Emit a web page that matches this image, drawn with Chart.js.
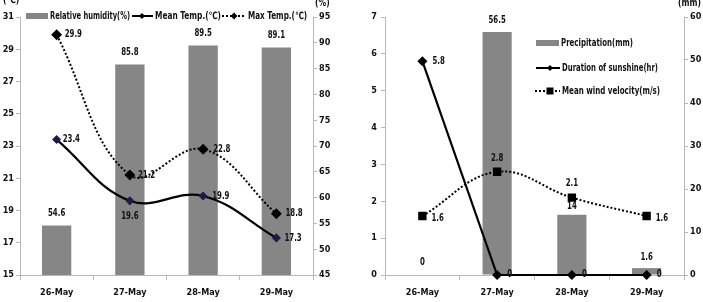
<!DOCTYPE html>
<html lang="en">
<head>
  <meta charset="UTF-8">
  <title>Weather 26-29 May</title>
  <script src="https://cdn.jsdelivr.net/npm/chart.js"></script>
  <style>
    body { margin: 0; background: #fff; width: 703px; height: 302px; overflow: hidden; position: relative; }
    .box { position: absolute; top: 0; height: 302px; }
    #b1 { left: 0; width: 345px; }
    #b2 { left: 345px; width: 358px; }
  </style>
</head>
<body>
  <div class="box" id="b1"><canvas id="c1"></canvas></div>
  <div class="box" id="b2"><canvas id="c2"></canvas></div>

  <script>
    const days = ['26-May', '27-May', '28-May', '29-May'];
    const humidity = [54.6, 85.8, 89.5, 89.1];
    const meanTemp = [23.4, 19.6, 19.9, 17.3];
    const maxTemp = [29.9, 21.2, 22.8, 18.8];
    const precipitation = [0, 56.5, 14, 1.6];
    const sunshine = [5.8, 0, 0, 0];
    const wind = [1.6, 2.8, 2.1, 1.6];

    const FONT = "'Liberation Sans Narrow', 'DejaVu Sans Condensed', sans-serif";
    const TXT = '#111';
    const AXIS = '#b8b8b8';
    const BAR = '#868686';

    // squeezed text, the original uses a narrow font
    function text(ctx, s, x, y, align, sx) {
      ctx.save();
      ctx.translate(x, y);
      ctx.scale(sx, 1);
      ctx.textAlign = align;
      ctx.fillText(s, 0, 0);
      ctx.restore();
    }

    // value labels next to each bar / point: [dx, dy, align]
    const valueLabels = {
      id: 'valueLabels',
      afterDatasetsDraw(chart) {
        const ctx = chart.ctx;
        ctx.save();
        ctx.font = 'bold 10px ' + FONT;
        ctx.fillStyle = TXT;
        ctx.textBaseline = 'middle';
        chart.data.datasets.forEach((ds, i) => {
          const meta = chart.getDatasetMeta(i);
          meta.data.forEach((el, j) => {
            const p = ds.labelPos[j];
            text(ctx, String(ds.data[j]), el.x + p[0], el.y + p[1], p[2], 0.78);
          });
        });
        ctx.restore();
      }
    };

    function marker(ctx, style, x, y, r) {
      ctx.fillStyle = '#000';
      ctx.beginPath();
      if (style === 'rectRot') {
        ctx.moveTo(x, y - r); ctx.lineTo(x + r, y); ctx.lineTo(x, y + r); ctx.lineTo(x - r, y);
      } else {
        ctx.rect(x - r, y - r, 2 * r, 2 * r);
      }
      ctx.closePath();
      ctx.fill();
    }

    // legend + unit captions, drawn over the plot like the original
    function legendPlugin(items, units) {
      return {
        id: 'ownLegend',
        afterDraw(chart) {
          const ctx = chart.ctx;
          ctx.save();
          ctx.font = 'bold 10px ' + FONT;
          ctx.fillStyle = TXT;
          ctx.textBaseline = 'middle';
          units.forEach(u => text(ctx, u[0], u[1], u[2], 'left', 0.85));
          items.forEach(it => {
            if (it.kind === 'box') {
              ctx.fillStyle = BAR;
              ctx.fillRect(it.x, it.y - 3, it.w, 6);
            } else {
              ctx.strokeStyle = '#000';
              ctx.lineWidth = 2;
              ctx.setLineDash(it.dash || []);
              ctx.beginPath();
              ctx.moveTo(it.x, it.y);
              ctx.lineTo(it.x + it.w, it.y);
              ctx.stroke();
              ctx.setLineDash([]);
              marker(ctx, it.marker, it.x + it.m, it.y, it.r);
            }
            ctx.fillStyle = TXT;
            const sx = it.tw / ctx.measureText(it.text).width;
            text(ctx, it.text, it.x + it.w + 2, it.y, 'left', sx);
          });
          ctx.restore();
        }
      };
    }

    const tickFont = { family: FONT, size: 9, weight: 'bold' };

    function xScale() {
      return {
        offset: true,
        grid: { offset: true, drawOnChartArea: false, tickLength: 5, color: AXIS },
        border: { color: AXIS },
        ticks: { font: tickFont, color: TXT, padding: 7, maxRotation: 0 },
        afterFit: s => { s.height = 27; }
      };
    }

    function yScale(pos, min, max, step, width, pad) {
      return {
        position: pos, min: min, max: max,
        grid: { drawOnChartArea: false, tickLength: 4, color: AXIS },
        border: { color: AXIS },
        ticks: { stepSize: step, font: tickFont, color: TXT, padding: pad },
        afterFit: s => { s.width = width; }
      };
    }

    const common = {
      responsive: true,
      maintainAspectRatio: false,
      animation: false,
      layout: { padding: { top: 17 } },
      plugins: { legend: { display: false }, tooltip: { enabled: false } }
    };

    new Chart(document.getElementById('c1'), {
      data: {
        labels: days,
        datasets: [
          {
            type: 'line', label: 'Mean Temp.(℃)', data: meanTemp, yAxisID: 'y',
            borderColor: '#000', borderWidth: 2.2, tension: 0.4, clip: false,
            pointStyle: 'rectRot', pointRadius: 3, pointBackgroundColor: '#1c1c4a', pointBorderColor: '#1c1c4a',
            order: 1, labelPos: [[6, 0, 'left'], [0, 16, 'center'], [9, 0, 'left'], [8, 0, 'left']]
          },
          {
            type: 'line', label: 'Max Temp.(℃)', data: maxTemp, yAxisID: 'y',
            borderColor: '#000', borderWidth: 2, borderDash: [2, 2], tension: 0.4, clip: false,
            pointStyle: 'rectRot', pointRadius: 4, pointBackgroundColor: '#000', pointBorderColor: '#000',
            order: 2, labelPos: [[8, 0, 'left'], [8, 0, 'left'], [10, 0, 'left'], [9, 0, 'left']]
          },
          {
            type: 'bar', label: 'Relative humidity(%)', data: humidity, yAxisID: 'y1',
            backgroundColor: BAR, barPercentage: 0.4, categoryPercentage: 1,
            order: 3, labelPos: [[0, -12, 'center'], [0, -12, 'center'], [0, -12, 'center'], [0, -12, 'center']]
          }
        ]
      },
      options: Object.assign({}, common, {
        scales: {
          x: xScale(),
          y: yScale('left', 15, 31, 2, 20, 2),
          y1: yScale('right', 45, 95, 5, 32, 2)
        }
      }),
      plugins: [valueLabels, legendPlugin([
        { kind: 'box', text: 'Relative humidity(%)', x: 26, y: 16, w: 22, tw: 80 },
        { kind: 'line', text: 'Mean Temp.(℃)', x: 132, y: 16, w: 21, m: 10, marker: 'rectRot', r: 3, tw: 66 },
        { kind: 'line', text: 'Max Temp.(℃)', x: 222, y: 16, w: 24, m: 12, marker: 'rectRot', r: 3.5, dash: [2, 2], tw: 59 }
      ], [['(℃)', 3, 0], ['(%)', 315, 3]])]
    });

    new Chart(document.getElementById('c2'), {
      data: {
        labels: days,
        datasets: [
          {
            type: 'line', label: 'Duration of sunshine(hr)', data: sunshine, yAxisID: 'y',
            borderColor: '#000', borderWidth: 2.2, tension: 0, clip: false,
            pointStyle: 'rectRot', pointRadius: 3.5, pointBackgroundColor: '#000', pointBorderColor: '#000',
            order: 1, labelPos: [[10, 0, 'left'], [10, -1, 'left'], [10, -1, 'left'], [10, -1, 'left']]
          },
          {
            type: 'line', label: 'Mean wind velocity(m/s)', data: wind, yAxisID: 'y',
            borderColor: '#000', borderWidth: 2, borderDash: [2, 2], tension: 0.4, clip: false,
            pointStyle: 'rect', pointRadius: 4.5, pointBackgroundColor: '#000', pointBorderColor: '#000',
            order: 2, labelPos: [[9, 2, 'left'], [0, -13, 'center'], [0, -14, 'center'], [9, 2, 'left']]
          },
          {
            type: 'bar', label: 'Precipitation(mm)', data: precipitation, yAxisID: 'y1',
            backgroundColor: BAR, barPercentage: 0.39, categoryPercentage: 1,
            order: 3, labelPos: [[0, -13, 'center'], [0, -12, 'center'], [0, -8, 'center'], [0, -11, 'center']]
          }
        ]
      },
      options: Object.assign({}, common, {
        scales: {
          x: xScale(),
          y: yScale('left', 0, 7, 1, 40, 4),
          y1: yScale('right', 0, 60, 10, 19, 2)
        }
      }),
      plugins: [valueLabels, legendPlugin([
        { kind: 'box', text: 'Precipitation(mm)', x: 191, y: 43, w: 23, tw: 72 },
        { kind: 'line', text: 'Duration of sunshine(hr)', x: 191, y: 68, w: 24, m: 14, marker: 'rectRot', r: 3, tw: 96 },
        { kind: 'line', text: 'Mean wind velocity(m/s)', x: 190, y: 91, w: 25, m: 15, marker: 'rect', r: 3.5, dash: [2, 2], tw: 98 }
      ], [['(mm)', 333, 3]])]
    });
  </script>
</body>
</html>
